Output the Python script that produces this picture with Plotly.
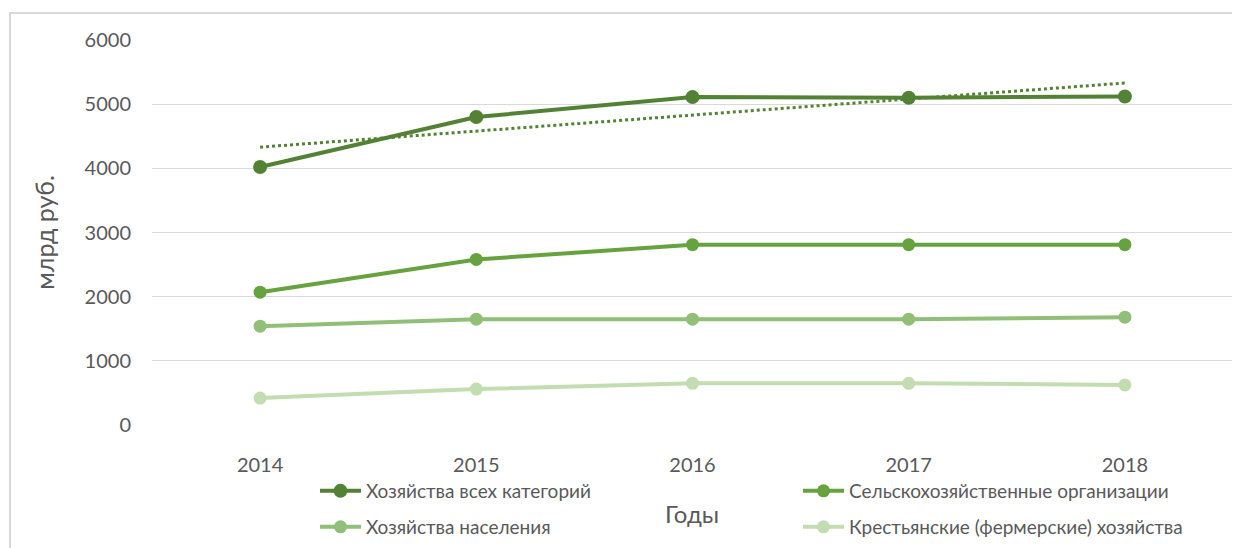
import numpy as np
import plotly.graph_objects as go

years = ["2014", "2015", "2016", "2017", "2018"]
all_farms = [4020, 4800, 5110, 5100, 5120]
agri_orgs = [2070, 2580, 2810, 2810, 2810]
households = [1540, 1650, 1650, 1650, 1680]
peasant_farms = [420, 560, 650, 650, 625]

names = ["Хозяйства всех категорий", "Сельскохозяйственные организации",
         "Хозяйства населения", "Крестьянские (фермерские) хозяйства"]
colors = ["#548235", "#66a33f", "#92bf78", "#c2ddb0"]
series = [all_farms, agri_orgs, households, peasant_farms]
legend_refs = ["legend", "legend2", "legend3", "legend4"]
marker_sizes = [14, 13, 13, 13]

# linear trend of the total series
xi = np.arange(len(years))
k, b = np.polyfit(xi, all_farms, 1)
trend = k * xi + b

fig = go.Figure()
fig.add_trace(go.Scatter(x=years, y=trend, mode="lines", showlegend=False,
                         line=dict(color=colors[0], width=3, dash="dot"),
                         hoverinfo="skip"))
for name, vals, col, lg, ms in zip(names, series, colors, legend_refs, marker_sizes):
    fig.add_trace(go.Scatter(x=years, y=vals, mode="lines+markers", name=name,
                             line=dict(color=col, width=4),
                             marker=dict(color=col, size=ms),
                             legend=lg))

font_family = "Lato, 'Open Sans', sans-serif"
# plot area in figure pixels (page body adds ~8px offset)
L, W, T, H = 144, 1081, 32, 385


def px_x(p):
    return (p - L) / W


def px_y(p):
    return (T + H - p) / H


def leg(xp, yp):
    return dict(orientation="h", x=px_x(xp), xanchor="left",
                y=px_y(yp), yanchor="middle", itemwidth=41,
                font=dict(size=19, color="#595959"),
                bgcolor="rgba(0,0,0,0)")


fig.update_layout(
    width=1240, height=548,
    margin=dict(l=L, r=1240 - L - W, t=T, b=548 - T - H, autoexpand=False),
    paper_bgcolor="white", plot_bgcolor="white",
    font=dict(family=font_family, color="#595959", size=18),
    xaxis=dict(type="category", range=[-0.5, len(years) - 0.5],
               showgrid=False, showline=False, zeroline=False,
               tickfont=dict(size=20, color="#595959"), ticklabelstandoff=26),
    yaxis=dict(range=[0, 6000], dtick=1000, showgrid=True, gridcolor="#d9d9d9",
               gridwidth=1, zeroline=False, showline=False,
               tickfont=dict(size=20, color="#595959"), ticklabelstandoff=20,
               title=dict(text="млрд руб.", font=dict(size=25, color="#595959"),
                          standoff=22)),
    legend=leg(307, 483),
    legend2=leg(790, 483),
    legend3=leg(307, 519),
    legend4=leg(790, 519),
    annotations=[dict(text="Годы", x=px_x(684), xref="paper", y=px_y(505),
                      yref="paper", showarrow=False, yanchor="middle",
                      font=dict(size=24, color="#595959"))],
    shapes=[dict(type="rect", xref="paper", yref="paper",
                 x0=px_x(2), x1=1.1, y0=-0.5, y1=px_y(5),
                 line=dict(color="#d9d9d9", width=2), layer="below")],
    showlegend=True,
)

fig.write_html("out.html")
